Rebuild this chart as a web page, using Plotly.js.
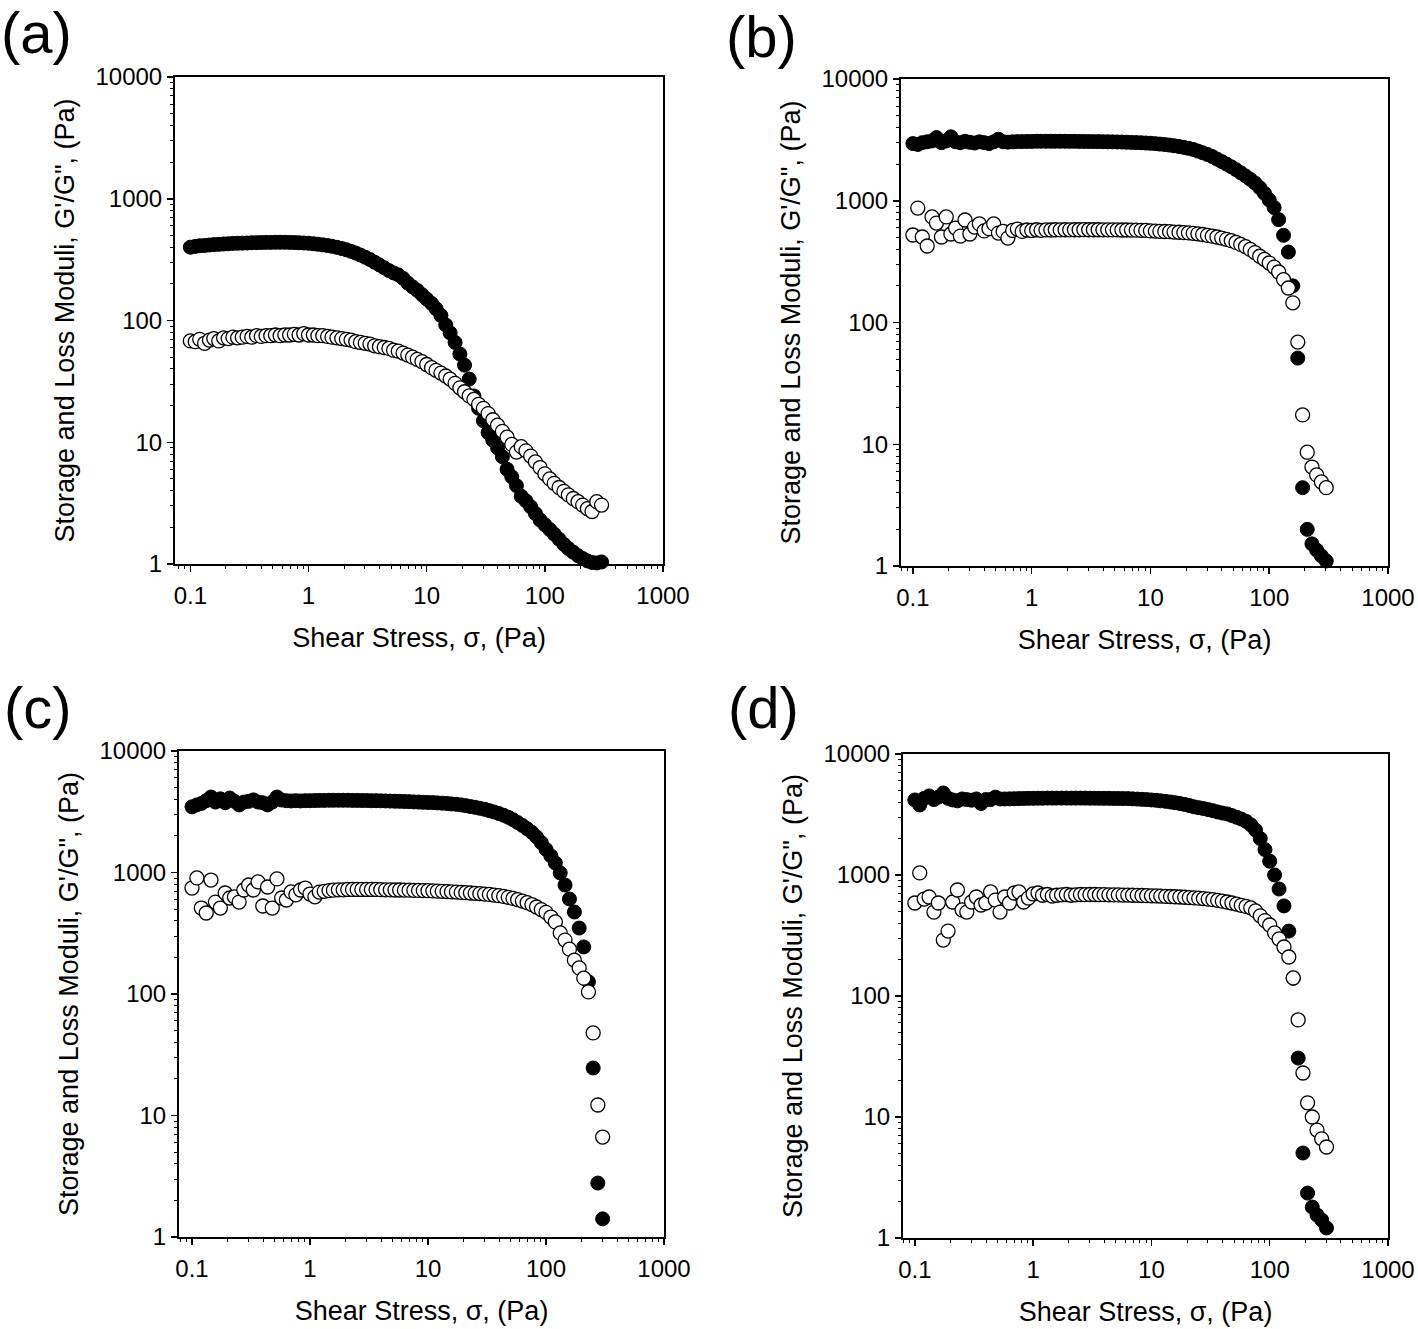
<!DOCTYPE html>
<html><head><meta charset="utf-8">
<script src="https://cdn.plot.ly/plotly-3.0.1.min.js"></script>
<style>html,body{margin:0;padding:0;background:#fff}#chart{width:1418px;height:1329px}</style>
</head><body><div id="chart"></div>
<script>
// Shear stress sweep (Pa)
const stress = [0.1,0.110,0.120,0.132,0.145,0.158,0.174,0.191,0.209,0.229,
0.251,0.275,0.302,0.331,0.363,0.398,0.437,0.479,0.525,0.575,
0.631,0.692,0.759,0.832,0.912,
1.00,1.10,1.20,1.32,1.45,1.58,1.74,1.91,2.09,2.29,
2.51,2.75,3.02,3.31,3.63,3.98,4.37,4.79,5.25,5.75,
6.31,6.92,7.59,8.32,9.12,
10.0,11.0,12.0,13.2,14.5,15.8,17.4,19.1,20.9,22.9,
25.1,27.5,30.2,33.1,36.3,39.8,43.7,47.9,52.5,57.5,
63.1,69.2,75.9,83.2,91.2,
100,110,120,132,145,158,174,191,209,229,251,275,302];

// (a) G' (filled) and G'' (open)
const a_Gp = [400,406,411,413,417,420,422,425,427,430,
431,432,433,435,436,437,438,438,439,439,
439,438,437,435,433,
431,427,423,418,413,407,399,390,381,370,
358,345,331,317,301,286,271,257,246,237,
222,203,189,177,163,
150,138,125,110,92,79,66,53,43,33,
24,19,15,12,10.4,9.0,7.6,6.0,5.2,4.4,
3.6,3.3,2.95,2.6,2.3,
2.1,1.92,1.76,1.6,1.45,1.34,1.25,1.17,1.11,1.06,1.03,1.02,1.04];
const a_Gpp = [68,67,70,65,69,71,68,72,71,73,
72,73,74,73,75,74,75,75,76,75,
76,76,77,76,78,
76,76,75,75,74,73,72,71,70,69,
67,66,65,64,62,61,60,59,57,56,
54,52,50,48,46,
43.5,41,39,37,35,33,30.5,28,26,24,
22.5,20.5,19,17.2,15.3,13.8,12.3,11.0,9.6,8.3,
9.2,8.5,7.7,6.9,6.2,
5.5,5.0,4.6,4.25,3.95,3.7,3.45,3.25,3.05,2.85,2.7,3.25,3.05];

// (b)
const b_Gp = [2950,2900,3000,3050,3100,3300,3000,3100,3350,3050,
3000,3080,3020,2980,3050,3000,2950,3050,3200,3050,
3030,3050,3060,3060,3070,
3070,3080,3080,3080,3080,3080,3080,3080,3075,3075,
3070,3070,3065,3060,3060,3055,3050,3045,3040,3035,
3025,3015,3005,2995,2980,
2965,2945,2920,2895,2865,2830,2790,2745,2695,2640,
2560,2480,2400,2310,2200,2100,2000,1900,1800,1700,
1600,1500,1400,1280,1150,
1015,880,700,520,379,200,51,4.4,2.0,1.52,1.35,1.21,1.10];
const b_Gpp = [523,871,504,425,736,656,504,736,533,597,
513,695,533,608,645,565,590,645,543,560,
494,570,585,560,575,
570,578,572,576,575,578,576,578,577,578,
578,579,578,578,578,577,577,576,576,575,
575,574,573,572,571,
565,563,561,559,557,553,551,548,544,540,
535,528,520,512,504,494,482,470,455,438,
420,398,375,350,330,
308,285,260,225,192,145,69,17.4,8.6,6.5,5.6,4.9,4.4];

// (c)
const c_Gp = [3470,3600,3700,3900,4180,3800,4040,3750,4100,3850,
3600,3800,3850,3960,3800,3750,3600,3800,4180,3950,
3900,3880,3900,3880,3900,
3900,3910,3920,3920,3930,3930,3930,3930,3930,3920,
3920,3910,3910,3900,3900,3890,3880,3870,3860,3850,
3840,3830,3810,3800,3780,
3770,3760,3740,3720,3700,3670,3640,3600,3550,3490,
3440,3380,3310,3230,3150,3060,2960,2850,2720,2580,
2440,2290,2140,1960,1760,
1550,1370,1197,991,789,605,473,349,244,126,24.6,2.78,1.41];
const c_Gpp = [745,902,510,464,867,571,510,678,617,630,
571,718,789,718,836,530,760,510,885,617,
594,692,655,718,745,
665,630,690,700,710,715,720,720,725,725,
725,725,725,725,725,722,720,720,718,718,
716,715,714,712,710,
708,705,702,700,697,693,690,686,682,678,
674,670,665,660,652,645,635,625,612,598,
582,565,545,520,495,
470,430,392,318,278,234,190,164,135,104,47.8,12.2,6.65];

// (d)
const d_Gp = [4170,3790,4300,4500,4200,4400,4760,4300,4170,4100,
4250,4200,4150,4250,3900,4200,4200,4400,4250,4250,
4260,4270,4280,4290,4300,
4300,4310,4310,4320,4320,4320,4320,4320,4320,4320,
4320,4320,4310,4310,4300,4300,4300,4290,4290,4280,
4280,4260,4240,4220,4200,
4170,4140,4100,4060,4010,3960,3900,3830,3750,3660,
3600,3540,3470,3400,3320,3250,3200,3100,3000,2900,
2780,2600,2350,2000,1620,
1300,1000,766,555,344,140,30.7,5.04,2.35,1.80,1.55,1.41,1.21];
const d_Gpp = [587,1040,633,658,494,587,290,344,598,752,
514,494,598,658,565,587,724,621,494,658,
587,710,724,598,645,
697,710,680,690,670,680,685,690,680,685,
690,688,690,690,688,688,686,686,684,683,
682,680,679,677,675,
673,671,669,667,664,661,658,655,651,647,
643,638,632,625,617,608,598,587,575,562,
550,535,505,460,420,
386,332,296,254,210,141,63.4,23.1,13.1,10,7.8,6.6,5.65];

const xTickVals = [0.1,1,10,100,1000];
const xTickText = ['0.1','1','10','100','1000'];
const yTickVals = [1,10,100,1000,10000];
const yTickText = ['1','10','100','1000','10000'];
const xTitle = 'Shear Stress, \u03c3, (Pa)';
const yTitle = 'Storage and Loss Moduli, G\'/G", (Pa)';
const panelLabels = ['(a)','(b)','(c)','(d)'];

const FONT = 'Liberation Sans, Arial, sans-serif';
const minorX = [];
for (let e = -2; e <= 2; e++) for (let k = 2; k <= 9; k++) minorX.push(k * Math.pow(10, e));
const minorY = [];
for (let e = 0; e <= 3; e++) for (let k = 2; k <= 9; k++) minorY.push(k * Math.pow(10, e));

const panels = [
  {gp: a_Gp, gpp: a_Gpp, xd: [175/1418, 663/1418], yd: [1-564/1329, 1-77/1329], xr: [-1.13, 3], lab: [36, 33]},
  {gp: b_Gp, gpp: b_Gpp, xd: [901/1418, 1388/1418], yd: [1-566/1329, 1-79/1329], xr: [-1.10, 3], lab: [761, 36]},
  {gp: c_Gp, gpp: c_Gpp, xd: [179/1418, 664/1418], yd: [1-1237/1329, 1-751/1329], xr: [-1.11, 3], lab: [38, 708]},
  {gp: d_Gp, gpp: d_Gpp, xd: [903/1418, 1388/1418], yd: [1-1238/1329, 1-754/1329], xr: [-1.10, 3], lab: [763, 708]}
];

const traces = [];
const layout = {
  width: 1418, height: 1329,
  margin: {l: 0, r: 0, t: 0, b: 0},
  paper_bgcolor: '#fff', plot_bgcolor: '#fff',
  showlegend: false,
  font: {family: FONT, color: '#000'},
  annotations: []
};

panels.forEach((p, n) => {
  const s = n === 0 ? '' : String(n + 1);
  traces.push({
    x: stress, y: p.gp, type: 'scatter', mode: 'markers', cliponaxis: false,
    xaxis: 'x' + s, yaxis: 'y' + s,
    marker: {symbol: 'circle', size: 14, color: '#000', line: {color: '#000', width: 1}}
  });
  traces.push({
    x: stress, y: p.gpp, type: 'scatter', mode: 'markers', cliponaxis: false,
    xaxis: 'x' + s, yaxis: 'y' + s,
    marker: {symbol: 'circle', size: 14, color: '#fff', line: {color: '#000', width: 1.3}}
  });
  const common = {
    type: 'log', tickmode: 'array', ticks: 'outside', ticklen: 6, tickwidth: 1.5, tickcolor: '#000',
    showline: true, linewidth: 2, linecolor: '#000', mirror: true,
    showgrid: false, zeroline: false, automargin: false, fixedrange: true,
    tickfont: {family: FONT, size: 24, color: '#000'}
  };
  layout['xaxis' + s] = Object.assign({}, common, {
    domain: p.xd, range: p.xr, anchor: 'y' + s,
    tickvals: xTickVals, ticktext: xTickText, ticklabelstandoff: 3,
    minor: {tickmode: 'array', tickvals: minorX, ticks: 'outside', ticklen: 3, tickwidth: 1, tickcolor: '#000', showgrid: false},
    title: {text: xTitle, font: {family: FONT, size: 27, color: '#000'}, standoff: 20}
  });
  layout['yaxis' + s] = Object.assign({}, common, {
    domain: p.yd, range: [0, 4], anchor: 'x' + s,
    tickvals: yTickVals, ticktext: yTickText,
    minor: {tickmode: 'array', tickvals: minorY, ticks: 'outside', ticklen: 3, tickwidth: 1, tickcolor: '#000', showgrid: false},
    title: {text: yTitle, font: {family: FONT, size: 27, color: '#000'}, standoff: 13}
  });
  layout.annotations.push({
    text: panelLabels[n], xref: 'paper', yref: 'paper',
    x: p.lab[0] / 1418, y: 1 - p.lab[1] / 1329, xanchor: 'center', yanchor: 'middle',
    showarrow: false, font: {family: FONT, size: 58, color: '#000'}
  });
});

Plotly.newPlot('chart', traces, layout, {displayModeBar: false, staticPlot: true});
</script>
</body></html>
